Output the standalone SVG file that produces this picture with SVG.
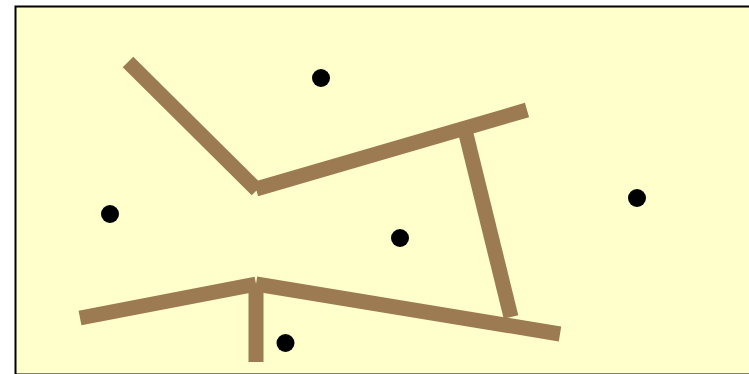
<svg xmlns="http://www.w3.org/2000/svg" width="749" height="374" viewBox="0 0 749 374">
<style>
.wall{stroke:#9c7b53;stroke-width:15;stroke-linecap:butt;fill:none}
.dot{fill:#000}
</style>
<rect x="15.5" y="6.5" width="760" height="368" fill="#ffffcc" stroke="#000" stroke-width="2"/>
<g id="walls">
<line class="wall" x1="128" y1="62" x2="257" y2="190"/>
<line class="wall" x1="256" y1="189" x2="527" y2="110"/>
<line class="wall" x1="466" y1="134" x2="511" y2="317"/>
<line class="wall" x1="80" y1="318" x2="256" y2="284"/>
<line class="wall" x1="256" y1="284" x2="560" y2="334"/>
<line class="wall" x1="256" y1="284" x2="256" y2="362"/>
</g>
<g id="d1"><circle class="dot" cx="321" cy="78" r="9"/></g>
<g id="d2"><circle class="dot" cx="110" cy="214" r="9"/></g>
<g id="d3"><circle class="dot" cx="400" cy="238" r="9"/></g>
<g id="d4"><circle class="dot" cx="637" cy="198" r="9"/></g>
<g id="d5"><circle class="dot" cx="285.5" cy="343" r="9"/></g>
</svg>
